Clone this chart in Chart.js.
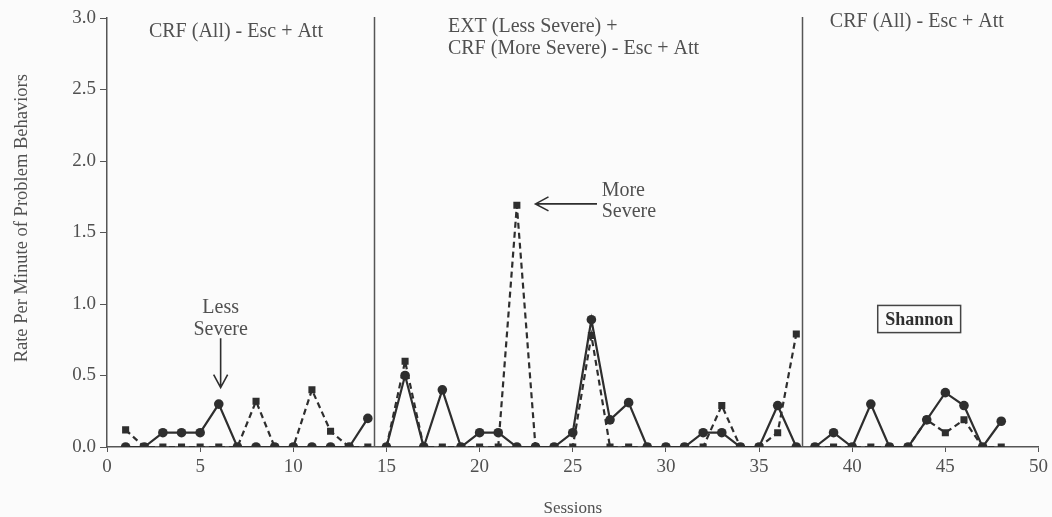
<!DOCTYPE html>
<html>
<head>
<meta charset="utf-8">
<script src="https://cdn.jsdelivr.net/npm/chart.js@4"></script>
<style>
  html, body { margin: 0; padding: 0; background: #fbfbfb; }
  #wrap { width: 1052px; height: 517px; }
</style>
</head>
<body>
<div id="wrap"><canvas id="chart" width="1052" height="517"></canvas></div>
<script>
// sessions and rates
const sessions = [1,2,3,4,5,6,7,8,9,10,11,12,13,14,15,16,17,18,19,20,21,22,23,24,25,26,27,28,29,30,31,32,33,34,35,36,37,38,39,40,41,42,43,44,45,46,47,48];
const lessSevere = [0,0,0.1,0.1,0.1,0.3,0,0,0,0,0,0,0,0.2,
  0,0.5,0,0.4,0,0.1,0.1,0,0,0,0.1,0.89,0.19,0.31,0,0,0,0.1,0.1,0,0,0.29,0,
  0,0.1,0,0.3,0,0,0.19,0.38,0.29,0,0.18];
const moreSevere = [0.12,0,0,0,0,0,0,0.32,0,0,0.4,0.11,0,0,
  0,0.6,0,0,0,0,0,1.69,0,0,0,0.78,0,0,0,0,0,0,0.29,0,0,0.1,0.79,
  0,0,0,0,0,0,0.19,0.1,0.19,0,0];
const phaseLines = [14.35, 37.3];
const phaseLabels = [
  { x: 2.25, y: 2.905, lines: ['CRF (All) - Esc + Att'] },
  { x: 18.3, y: 2.94, lines: ['EXT (Less Severe) +', 'CRF (More Severe) - Esc + Att'] },
  { x: 38.8, y: 2.975, lines: ['CRF (All) - Esc + Att'] }
];
const yTicks = [0, 0.5, 1.0, 1.5, 2.0, 2.5, 3.0];

const ink = '#2e2e2e';
const textCol = '#505050';
const serif = '"Liberation Serif", "DejaVu Serif", serif';

// don't join points across a phase change line
function crossesPhase(ctx) {
  const a = ctx.p0.parsed.x, b = ctx.p1.parsed.x;
  return phaseLines.some(p => a < p && b > p);
}

const toXY = vals => sessions.map((s, i) => ({ x: s, y: vals[i] }));

const extras = {
  id: 'extras',
  afterDatasetsDraw(chart) {
    const { ctx, scales: { x, y } } = chart;
    ctx.save();
    // phase change lines
    ctx.strokeStyle = '#555';
    ctx.lineWidth = 1.5;
    phaseLines.forEach(p => {
      const px = Math.round(x.getPixelForValue(p)) + 0.5;
      ctx.beginPath();
      ctx.moveTo(px, y.getPixelForValue(3.0) - 1);
      ctx.lineTo(px, y.getPixelForValue(0));
      ctx.stroke();
    });

    ctx.fillStyle = textCol;
    ctx.font = '20px ' + serif;
    ctx.textBaseline = 'middle';
    ctx.textAlign = 'left';
    phaseLabels.forEach(l => {
      l.lines.forEach((t, i) => {
        ctx.fillText(t, x.getPixelForValue(l.x), y.getPixelForValue(l.y) + i * 22);
      });
    });

    // "Less Severe" annotation
    const lx = x.getPixelForValue(6.1);
    ctx.textAlign = 'center';
    ctx.fillText('Less', lx, y.getPixelForValue(0.975));
    ctx.fillText('Severe', lx, y.getPixelForValue(0.82));
    ctx.strokeStyle = ink;
    ctx.lineWidth = 1.6;
    const a1 = y.getPixelForValue(0.76), a2 = y.getPixelForValue(0.415);
    ctx.beginPath();
    ctx.moveTo(lx, a1); ctx.lineTo(lx, a2);
    ctx.moveTo(lx - 7, a2 - 13); ctx.lineTo(lx, a2); ctx.lineTo(lx + 7, a2 - 13);
    ctx.stroke();

    // "More Severe" annotation
    ctx.textAlign = 'left';
    const mx = x.getPixelForValue(26.55);
    ctx.fillText('More', mx, y.getPixelForValue(1.79));
    ctx.fillText('Severe', mx, y.getPixelForValue(1.645));
    const ay = y.getPixelForValue(1.70);
    const b1 = x.getPixelForValue(26.3), b2 = x.getPixelForValue(23.0);
    ctx.beginPath();
    ctx.moveTo(b1, ay); ctx.lineTo(b2, ay);
    ctx.moveTo(b2 + 13, ay - 7); ctx.lineTo(b2, ay); ctx.lineTo(b2 + 13, ay + 7);
    ctx.stroke();

    // participant box
    const bx1 = x.getPixelForValue(41.37), bx2 = x.getPixelForValue(45.82);
    const by1 = y.getPixelForValue(0.99), by2 = y.getPixelForValue(0.8);
    ctx.strokeStyle = '#444';
    ctx.lineWidth = 1.5;
    ctx.strokeRect(bx1, by1, bx2 - bx1, by2 - by1);
    ctx.fillStyle = '#2e2e2e';
    ctx.font = 'bold 18px ' + serif;
    ctx.textAlign = 'center';
    ctx.fillText('Shannon', (bx1 + bx2) / 2, (by1 + by2) / 2 + 1);

    // y axis title, drawn by hand to sit where the figure has it
    ctx.save();
    ctx.translate(22, y.getPixelForValue(1.6));
    ctx.rotate(-Math.PI / 2);
    ctx.fillStyle = textCol;
    ctx.font = '18.5px ' + serif;
    ctx.fillText('Rate Per Minute of Problem Behaviors', 0, 0);
    ctx.restore();
    ctx.restore();
  }
};

new Chart(document.getElementById('chart'), {
  type: 'line',
  data: {
    datasets: [
      {
        label: 'More Severe',
        data: toXY(moreSevere),
        borderColor: ink,
        backgroundColor: ink,
        borderWidth: 2.2,
        borderDash: [6, 4],
        pointStyle: 'rect',
        pointRadius: 5,
        pointBorderWidth: 0,
        segment: { borderColor: c => crossesPhase(c) ? 'rgba(0,0,0,0)' : ink }
      },
      {
        label: 'Less Severe',
        data: toXY(lessSevere),
        borderColor: ink,
        backgroundColor: ink,
        borderWidth: 2.2,
        pointStyle: 'circle',
        pointRadius: 4.8,
        pointBorderWidth: 0,
        segment: { borderColor: c => crossesPhase(c) ? 'rgba(0,0,0,0)' : ink }
      }
    ]
  },
  options: {
    responsive: false,
    animation: false,
    layout: { padding: { top: 18, right: 12, left: 0, bottom: 0 } },
    plugins: { legend: { display: false }, tooltip: { enabled: false } },
    scales: {
      x: {
        type: 'linear',
        min: 0, max: 50,
        ticks: { stepSize: 5, color: textCol, font: { family: serif, size: 19 }, padding: 4, maxRotation: 0 },
        grid: { display: true, drawOnChartArea: false, drawTicks: true, tickLength: 5, color: '#555' },
        border: { color: '#555', width: 1.5 },
        title: { display: true, text: 'Sessions', color: textCol, font: { family: serif, size: 17 }, padding: { top: 4, bottom: -2 } },
        afterFit: s => { s.height = 70; }
      },
      y: {
        min: 0, max: 3,
        afterBuildTicks: s => { s.ticks = yTicks.map(v => ({ value: v })); },
        ticks: { color: textCol, font: { family: serif, size: 19 }, padding: 4, callback: v => v.toFixed(1) },
        grid: { display: true, drawOnChartArea: false, drawTicks: true, tickLength: 7, color: '#555' },
        border: { color: '#555', width: 1.5 },
        afterFit: s => { s.width = 107; }
      }
    }
  },
  plugins: [extras]
});
</script>
</body>
</html>
